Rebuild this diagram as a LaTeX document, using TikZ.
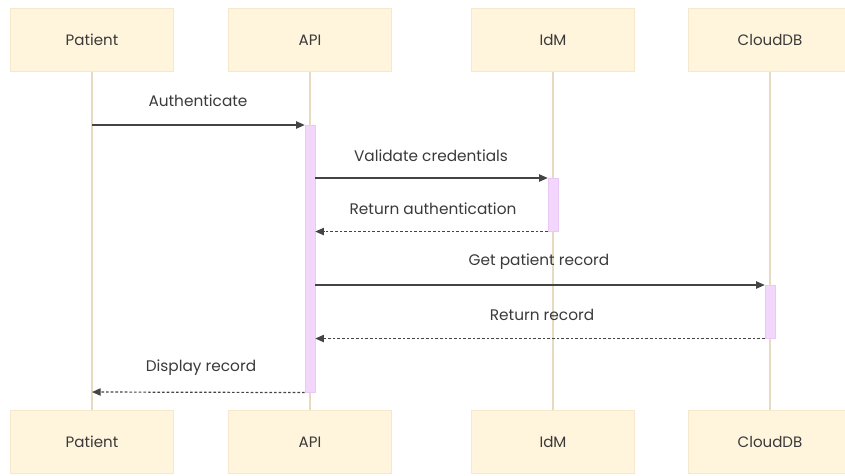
\documentclass[tikz,border=0pt]{standalone}
\usepackage{fontspec}
\setmainfont{Poppins}
\usetikzlibrary{arrows.meta}
\definecolor{actorfill}{HTML}{FFF4DC}
\definecolor{actorline}{HTML}{F5E8CC}
\definecolor{lifeline}{HTML}{E6DAC0}
\definecolor{actfill}{HTML}{F3D6FB}
\definecolor{actline}{HTML}{EBC8F5}
\definecolor{msgline}{HTML}{444444}
\definecolor{txt}{HTML}{3A3A3A}
\tikzset{
  actor/.style={draw=actorline, fill=actorfill, minimum width=163*0.75pt, minimum height=63*0.75pt, inner sep=0pt, font=\fontsize{11.3}{13}\selectfont, text=txt},
  lifel/.style={draw=lifeline, line width=0.8pt},
  actbar/.style={draw=actline, fill=actfill, line width=0.4pt},
  msg/.style={draw=msgline, line width=0.9pt, -{Triangle[length=6.5pt,width=5.5pt]}},
  reply/.style={msg, dash pattern=on 2pt off 1.5pt},
  lbl/.style={font=\fontsize{11.5}{13}\selectfont, text=txt, inner sep=0pt}
}
\begin{document}
\begin{tikzpicture}[x=0.75pt,y=-0.75pt]
\useasboundingbox (0,0) rectangle (845,475);
% actors top
\node[actor] (pt) at (92,40) {Patient};
\node[actor] (at) at (310,40) {API};
\node[actor] (it) at (553,40) {IdM};
\node[actor] (ct) at (770,40) {CloudDB};
% actors bottom
\node[actor] (pb) at (92,442) {Patient};
\node[actor] (ab) at (310,442) {API};
\node[actor] (ib) at (553,442) {IdM};
\node[actor] (cb) at (770,442) {CloudDB};
% lifelines
\draw[lifel] (pt.south) -- (pb.north);
\draw[lifel] (at.south) -- (ab.north);
\draw[lifel] (it.south) -- (ib.north);
\draw[lifel] (ct.south) -- (cb.north);
% activations
\node[actbar, minimum width=10*0.75pt, minimum height=267*0.75pt, inner sep=0pt, anchor=north] (aact) at (310,125) {};
\node[actbar, minimum width=10*0.75pt, minimum height=53*0.75pt, inner sep=0pt, anchor=north] (iact) at (553,178) {};
\node[actbar, minimum width=10*0.75pt, minimum height=53*0.75pt, inner sep=0pt, anchor=north] (cact) at (770,285) {};
% message endpoints
\coordinate (m1s) at (92,125);
\coordinate (m5e) at (92,392);
% messages
\draw[msg] (m1s) -- (aact.north west);
\node[lbl] at (198,101) {Authenticate};
\draw[msg] (aact.east |- iact.north) -- (iact.north west);
\node[lbl] at (431,156) {Validate credentials};
\draw[reply] (iact.south west) -- (aact.east |- iact.south);
\node[lbl] at (433,209) {Return authentication};
\draw[msg] (aact.east |- cact.north) -- (cact.north west);
\node[lbl] at (539,262) {Get patient record};
\draw[reply] (cact.south west) -- (aact.east |- cact.south);
\node[lbl] at (542,315) {Return record};
\draw[reply] (aact.south west) -- (m5e);
\node[lbl] at (201,368) {Display record};
\end{tikzpicture}
\end{document}
